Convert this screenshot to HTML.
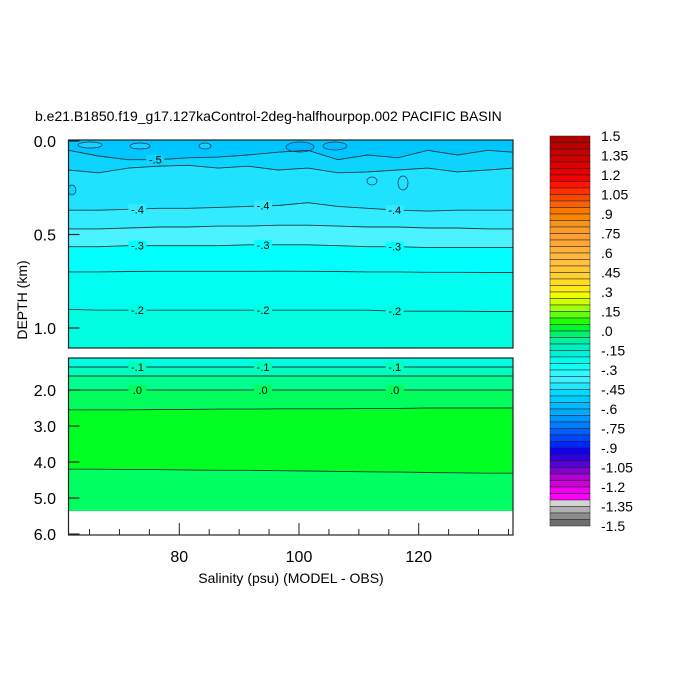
<!DOCTYPE html>
<html><head><meta charset="utf-8"><style>
html,body{margin:0;background:#fff;width:700px;height:700px;overflow:hidden;}
svg{display:block;font-family:"Liberation Sans",Arial,sans-serif;}
</style></head><body>
<svg id="c" width="700" height="700" viewBox="0 0 700 700">
<text x="35" y="121" font-size="14">b.e21.B1850.f19_g17.127kaControl-2deg-halfhourpop.002 PACIFIC BASIN</text>
<g id="g"></g>
</svg>
<script>
// sample salinity positions for contour lines
const sal = [61.5,66.5,71.5,76.5,81.5,86.5,91.5,96.5,101.5,106.5,111.5,116.5,121.5,126.5,131.5,136.5];
// contour depths (km) along sal
const c1 = [0.05,0.08,0.10,0.10,0.09,0.086,0.075,0.06,0.05,0.10,0.075,0.09,0.05,0.075,0.05,0.06];
const c2 = [0.155,0.17,0.145,0.135,0.13,0.145,0.135,0.155,0.145,0.17,0.165,0.155,0.145,0.165,0.155,0.145];
const c3 = [0.37,0.37,0.365,0.36,0.36,0.355,0.35,0.345,0.33,0.35,0.36,0.37,0.375,0.37,0.37,0.37];
const c4 = [0.47,0.47,0.465,0.46,0.46,0.455,0.455,0.45,0.45,0.455,0.46,0.46,0.465,0.465,0.47,0.47];
const c5 = [0.565,0.565,0.56,0.56,0.56,0.56,0.555,0.555,0.555,0.56,0.565,0.565,0.57,0.57,0.57,0.57];
const c6 = [0.70,0.70,0.698,0.697,0.697,0.697,0.697,0.696,0.697,0.698,0.70,0.70,0.702,0.702,0.703,0.703];
const c7 = [0.90,0.905,0.905,0.905,0.905,0.905,0.905,0.905,0.905,0.905,0.905,0.91,0.91,0.91,0.912,0.912];
const c8 = [1.36,1.36,1.36,1.36,1.36,1.36,1.36,1.36,1.36,1.36,1.36,1.36,1.36,1.36,1.36,1.36];
const c9 = [1.61,1.61,1.61,1.61,1.61,1.61,1.61,1.61,1.61,1.61,1.61,1.61,1.61,1.61,1.61,1.61];
const c10 = [2.0,2.0,2.0,2.0,2.0,2.0,2.0,2.0,2.0,2.0,2.0,2.0,2.0,2.0,2.0,2.0];
const c11 = [2.55,2.55,2.55,2.54,2.54,2.53,2.53,2.52,2.52,2.52,2.51,2.51,2.5,2.5,2.5,2.5];
const c12 = [4.2,4.2,4.21,4.21,4.22,4.23,4.23,4.24,4.25,4.26,4.27,4.28,4.29,4.3,4.31,4.31];
const bottomDepth = 5.36;
const bandColors = ["#00c6ff","#0cd4ff","#1ee2ff","#33ebff","#4af3ff","#00ffff","#00fff0","#00ffe0","#00ffbc","#00ff8c","#00ff5c","#00ff22","#00ff60"];
const contourLabels = [{i:0,t:"-.5",s:[76]},{i:2,t:"-.4",s:[73,94,116]},{i:4,t:"-.3",s:[73,94,116]},{i:6,t:"-.2",s:[73,94,116]},{i:7,t:"-.1",s:[73,94,116]},{i:9,t:".0",s:[73,94,116]}];
const yTopTicks = [0.0,0.5,1.0];
const yBotTicks = [2.0,3.0,4.0,5.0,6.0];
const xTicks = [80,100,120];
const cbLabels = ["1.5","1.35","1.2","1.05",".9",".75",".6",".45",".3",".15",".0","-.15","-.3","-.45","-.6","-.75","-.9","-1.05","-1.2","-1.35","-1.5"];
const cbColors = ["#b00000","#bb0000","#c40000","#d00000","#dc0000","#e80000","#f50000","#ff1400","#ff3000","#f84800","#f86000","#f87800","#f88800","#f89418","#fa9c28","#ffa030","#ffa838","#ffb038","#ffb83c","#ffc03c","#ffc838","#ffd030","#ffdc20","#ffe818","#f0ff00","#d0ff00","#a0ff10","#60ff10","#20ff00","#00f830","#00f070","#00f0a0","#00f0c0","#00f0d8","#00ffea","#10fff4","#30f8ff","#40f0ff","#20e8ff","#00dcff","#00ccff","#00bcff","#00aaff","#0094ff","#007cff","#0060ff","#0044ff","#0024ff","#1000f0","#3000e0","#5800d8","#8000d0","#b000d0","#d000d8","#f000f0","#ff00ff","#d4d4d4","#b0b0b0","#8c8c8c","#6e6e6e"];

const NS="http://www.w3.org/2000/svg";
const g=document.getElementById('g');
function el(tag,attrs,parent){const e=document.createElementNS(NS,tag);for(const k in attrs)e.setAttribute(k,attrs[k]);(parent||g).appendChild(e);return e;}
const L=68.5,R=513;
function xs(s){return Math.min(Math.max(179.3+(s-80)*5.985,L),R);}
const panels=[{top:140,bot:348,y:d=>141+d*187,id:'top'},{top:358,bot:535,y:d=>358+(d-1.11)*36,id:'bottom'}];
const contours=[c1,c2,c3,c4,c5,c6,c7,c8,c9,c10,c11,c12];
const defs=el('defs',{});
panels.forEach((p,pi)=>{
  const cp=el('clipPath',{id:'clip'+pi},defs);
  el('rect',{x:L,y:p.top,width:R-L,height:p.bot-p.top},cp);
  const pg=el('g',{'clip-path':'url(#clip'+pi+')'});
  
  
  el('rect',{x:L,y:p.top,width:R-L,height:p.bot-p.top,fill:'#fff'},pg);
  const cy=d=>Math.min(Math.max(p.y(d),p.top),p.bot);
  const line=arr=>sal.map((s,i)=>xs(s).toFixed(1)+','+cy(arr[i]).toFixed(1));
  const bounds=[sal.map(()=>-1)].concat(contours).concat([sal.map(()=>bottomDepth)]);
  for(let b=0;b<bounds.length-1;b++){
    const pts=line(bounds[b]).concat(line(bounds[b+1]).reverse());
    const poly=el('polygon',{points:pts.join(' '),fill:bandColors[b]},pg);
    
    
  }
  if(pi===0){
    const blobs=[[300,147,14,5,'#00b6ff'],[335,146,12,4,'#00bcff'],[90,145,12,3,'#18d0ff'],[140,146,10,3,'#18d0ff'],[205,146,6,3,'#18d0ff'],[372,181,5,4,'#1ee2ff'],[403,183,5,7,'#1ee2ff'],[72,190,4,5,'#0cd4ff']];
    blobs.forEach(b=>{const e=el('ellipse',{cx:b[0],cy:b[1],rx:b[2],ry:b[3],fill:b[4],stroke:'#235',"stroke-width":0.7},pg);
      });
  }
  contours.forEach((c,ci)=>{
    const inside=c.some(d=>p.y(d)>=p.top&&p.y(d)<=p.bot);
    if(!inside) return;
    const pl=el('polyline',{points:line(c).join(' '),fill:'none',stroke:'#1c3a3a','stroke-width':0.9},pg);
    
    
  });
  contourLabels.forEach(cl=>{
    cl.s.forEach(s=>{
      const arr=contours[cl.i];
      const yy=p.y(arr[Math.round((s-61.5)/5)]);
      if(yy<p.top||yy>p.bot) return;
      const x=xs(s);
      const bg=el('rect',{x:x-9,y:yy-5,width:18,height:10,fill:bandColors[cl.i+1]},pg);
      
      const t=el('text',{x:x,y:yy+4,'font-size':11,'text-anchor':'middle'},pg);
      t.textContent=cl.t;
      
    });
  });
  const fr=el('rect',{x:L,y:p.top,width:R-L,height:p.bot-p.top,fill:'none',stroke:'#222','stroke-width':1.2});
  
});
// y ticks
yTopTicks.forEach(v=>{const y=panels[0].y(v);
  el('line',{x1:L,x2:L+11,y1:y,y2:y,stroke:'#222','stroke-width':1.2});
  const t=el('text',{x:56,y:y+6,'font-size':16,'text-anchor':'end'});t.textContent=v.toFixed(1);
  });
yBotTicks.forEach(v=>{const y=panels[1].y(v);
  el('line',{x1:L,x2:L+11,y1:y,y2:y,stroke:'#222','stroke-width':1.2});
  const t=el('text',{x:56,y:y+6,'font-size':16,'text-anchor':'end'});t.textContent=v.toFixed(1);
  });
// x ticks
for(let s=65;s<=135;s+=5){const x=xs(s);const major=xTicks.includes(s);
  el('line',{x1:x,x2:x,y1:535,y2:major?523:529,stroke:'#222','stroke-width':1});}
xTicks.forEach(v=>{const t=el('text',{x:xs(v),y:562,'font-size':16,'text-anchor':'middle'});t.textContent=v;
  });
const xt=el('text',{x:291,y:583,'font-size':14,'text-anchor':'middle'});xt.textContent='Salinity (psu) (MODEL - OBS)';

const yt=el('text',{x:0,y:0,'font-size':14,'text-anchor':'middle',transform:'translate(27,300) rotate(-90)'});yt.textContent='DEPTH (km)';

// colorbar
const cbTop=136,cbBot=526,cbH=(cbBot-cbTop)/cbColors.length;
const cb=el('g',{});

cbColors.forEach((c,i)=>{const r=el('rect',{x:550,y:cbTop+i*cbH,width:40,height:cbH,fill:c,stroke:'#222','stroke-width':0.5},cb);
  });
cbLabels.forEach((l,i)=>{const y=cbTop+i*(cbBot-cbTop)/(cbLabels.length-1);
  const t=el('text',{x:601,y:y+5,'font-size':14},cb);t.textContent=l;
  });
</script>
</body></html>
